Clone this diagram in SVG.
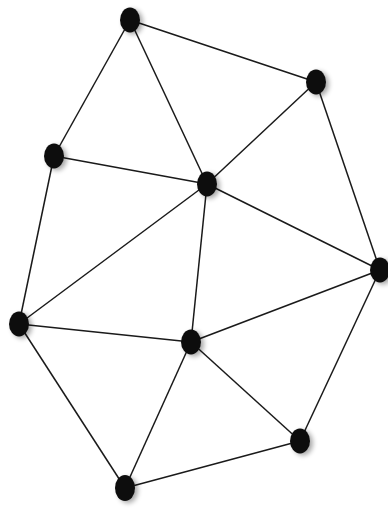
<svg xmlns="http://www.w3.org/2000/svg" width="388" height="508" viewBox="0 0 388 508">
<style>
.e{stroke:#1a1a1a;stroke-width:1.5;fill:none}
.n{fill:#0d0d0d}
</style>
<defs>
<filter id="sh" x="-50%" y="-50%" width="200%" height="200%">
<feGaussianBlur in="SourceAlpha" stdDeviation="2.5"/>
<feOffset dx="3" dy="2" result="b"/>
<feComponentTransfer><feFuncA type="linear" slope="0.35"/></feComponentTransfer>
<feMerge><feMergeNode/><feMergeNode in="SourceGraphic"/></feMerge>
</filter>
</defs>
<rect width="388" height="508" fill="#ffffff"/>
<g id="edges" class="e">
<line x1="130" y1="20" x2="316" y2="82"/>
<line x1="130" y1="20" x2="54" y2="156"/>
<line x1="130" y1="20" x2="207" y2="184"/>
<line x1="316" y1="82" x2="207" y2="184"/>
<line x1="316" y1="82" x2="380" y2="270"/>
<line x1="54" y1="156" x2="207" y2="184"/>
<line x1="54" y1="156" x2="19" y2="324"/>
<line x1="207" y1="184" x2="19" y2="324"/>
<line x1="207" y1="184" x2="191" y2="342"/>
<line x1="207" y1="184" x2="380" y2="270"/>
<line x1="380" y1="270" x2="191" y2="342"/>
<line x1="380" y1="270" x2="300" y2="441"/>
<line x1="19" y1="324" x2="191" y2="342"/>
<line x1="19" y1="324" x2="125" y2="488"/>
<line x1="191" y1="342" x2="125" y2="488"/>
<line x1="191" y1="342" x2="300" y2="441"/>
<line x1="300" y1="441" x2="125" y2="488"/>
</g>
<g id="n1" filter="url(#sh)"><ellipse class="n" cx="130" cy="20" rx="10" ry="12.5"/></g>
<g id="n2" filter="url(#sh)"><ellipse class="n" cx="316" cy="82" rx="10" ry="12.5"/></g>
<g id="n3" filter="url(#sh)"><ellipse class="n" cx="54" cy="156" rx="10" ry="12.5"/></g>
<g id="n4" filter="url(#sh)"><ellipse class="n" cx="207" cy="184" rx="10" ry="12.5"/></g>
<g id="n5" filter="url(#sh)"><ellipse class="n" cx="380" cy="270" rx="10" ry="12.5"/></g>
<g id="n6" filter="url(#sh)"><ellipse class="n" cx="19" cy="324" rx="10" ry="12.5"/></g>
<g id="n7" filter="url(#sh)"><ellipse class="n" cx="191" cy="342" rx="10" ry="12.5"/></g>
<g id="n8" filter="url(#sh)"><ellipse class="n" cx="300" cy="441" rx="10" ry="12.5"/></g>
<g id="n9" filter="url(#sh)"><ellipse class="n" cx="125" cy="488" rx="10" ry="13"/></g>
</svg>
